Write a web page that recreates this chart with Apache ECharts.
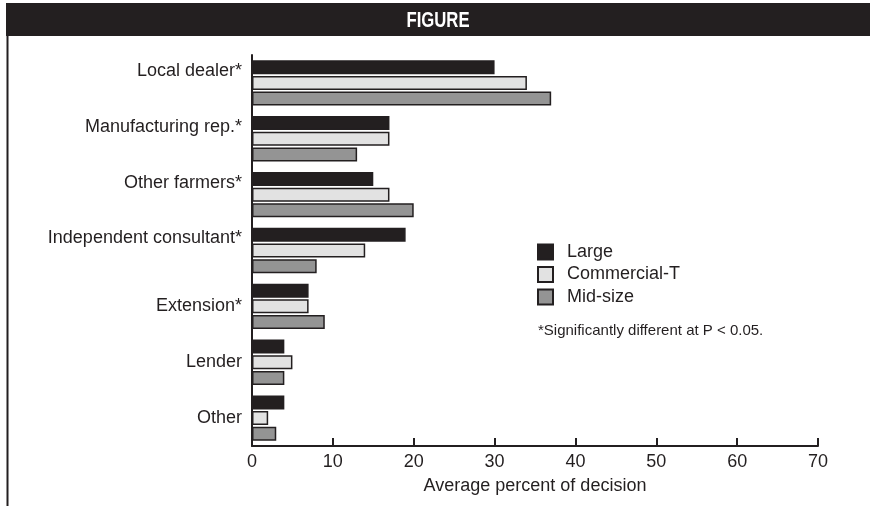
<!DOCTYPE html>
<html>
<head>
<meta charset="utf-8">
<script src="https://cdn.jsdelivr.net/npm/echarts@6/dist/echarts.min.js"></script>
<style>
  html, body { margin: 0; padding: 0; background: #fff; }
  #chart { width: 870px; height: 506px; }
</style>
</head>
<body>
<div id="chart"></div>
<script>
// data
const categories = ['Local dealer*', 'Manufacturing rep.*', 'Other farmers*', 'Independent consultant*', 'Extension*', 'Lender', 'Other'];
const large = [30, 17, 15, 19, 7, 4, 4];
const commercial = [34, 17, 17, 14, 7, 5, 2];
const midSize = [37, 13, 20, 8, 9, 4, 3];
const xTicks = [0, 10, 20, 30, 40, 50, 60, 70];

const ink = '#231f20';
const font = 'Liberation Sans';

const chart = echarts.init(document.getElementById('chart'));

function barSeries(name, data, color) {
    return {
        name: name,
        type: 'bar',
        data: data,
        barWidth: 14,
        barGap: '12%',
        itemStyle: { color: color, borderColor: ink, borderWidth: 1.5 }
    };
}

chart.setOption({
    animation: false,
    textStyle: { fontFamily: font },
    grid: { left: 252, right: 52, top: 55, bottom: 60 },
    legend: {
        orient: 'vertical',
        left: 537,
        top: 243,
        padding: 0,
        itemWidth: 15,
        itemHeight: 15,
        itemGap: 4.5,
        icon: 'rect',
        textStyle: { fontSize: 18, color: ink, fontFamily: font, padding: [0, 0, 0, 9] },
        data: ['Large', 'Commercial-T', 'Mid-size']
    },
    xAxis: {
        type: 'value',
        min: 0,
        max: 70,
        interval: 10,
        name: 'Average percent of decision',
        nameLocation: 'middle',
        nameGap: 31,
        nameTextStyle: { fontSize: 18, color: ink, fontFamily: font },
        axisLine: { show: true, lineStyle: { color: ink, width: 2 } },
        axisTick: { show: true, inside: true, length: 8, lineStyle: { color: ink, width: 2 } },
        axisLabel: { fontSize: 18, color: ink, margin: 7, formatter: v => xTicks.includes(v) ? String(v) : '' },
        splitLine: { show: false }
    },
    yAxis: {
        type: 'category',
        inverse: true,
        data: categories,
        axisLine: { show: true, lineStyle: { color: ink, width: 2 } },
        axisTick: { show: false },
        axisLabel: {
            fontSize: 18,
            color: ink,
            margin: 10,
            formatter: (v, i) => i < 4 ? '{up|' + v + '}' : '{mid|' + v + '}',
            rich: {
                up: { fontSize: 18, color: ink, fontFamily: font, padding: [0, 0, 24, 0] },
                mid: { fontSize: 18, color: ink, fontFamily: font }
            }
        }
    },
    series: [
        barSeries('Large', large, ink),
        barSeries('Commercial-T', commercial, '#e2e2e2'),
        barSeries('Mid-size', midSize, '#949494')
    ],
    graphic: [
        { type: 'rect', shape: { x: 6, y: 3, width: 864, height: 33 }, style: { fill: ink } },
        {
            type: 'text', x: 438, y: 21, scaleX: 0.76,
            style: { text: 'FIGURE', fill: '#fff', font: 'bold 22px "Liberation Sans"', align: 'center', verticalAlign: 'middle' }
        },
        { type: 'line', shape: { x1: 7.5, y1: 36, x2: 7.5, y2: 506 }, style: { stroke: ink, lineWidth: 2 } },
        {
            type: 'text', x: 538, y: 331,
            style: { text: '*Significantly different at P < 0.05.', fill: ink, font: '15px "Liberation Sans"', verticalAlign: 'middle' }
        }
    ]
});
</script>
</body>
</html>
